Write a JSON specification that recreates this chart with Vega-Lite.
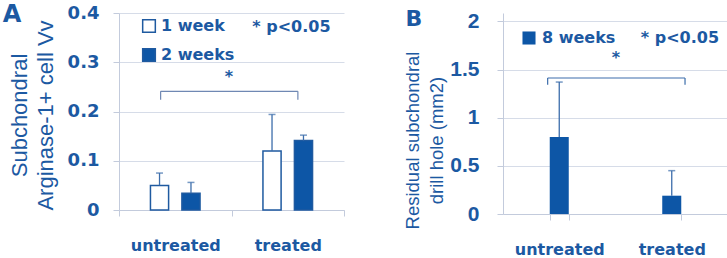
{
  "$schema": "https://vega.github.io/schema/vega-lite/v6.json",
  "padding": {"left": 2, "top": 2, "right": 0, "bottom": 0},
  "spacing": 159,
  "bounds": "flush",
  "background": "white",
  "config": {
    "view": {"stroke": null},
    "axis": {
      "domainColor": "#c3cbdc",
      "tickColor": "#c3cbdc",
      "gridColor": "#d6dce8",
      "tickSize": 6,
      "labelColor": "#1c59a2",
      "titleColor": "#1c59a2"
    },
    "legend": {"padding": 0}
  },
  "datasets": {
    "a": [
      {"group": "untreated", "week": "1 week", "value": 0.05, "upper": 0.075},
      {"group": "untreated", "week": "2 weeks", "value": 0.034, "upper": 0.056},
      {"group": "treated", "week": "1 week", "value": 0.12, "upper": 0.194},
      {"group": "treated", "week": "2 weeks", "value": 0.141, "upper": 0.152}
    ],
    "aBracket": [
      {"x": 0.37, "x2": 1.59, "y": 0.241, "y2": 0.241},
      {"x": 0.37, "x2": 0.37, "y": 0.224, "y2": 0.241},
      {"x": 1.59, "x2": 1.59, "y": 0.224, "y2": 0.241}
    ],
    "aText": [
      {"kind": "panel", "x": -0.951, "y": 0.396, "label": "A"},
      {"kind": "star", "x": 0.978, "y": 0.271, "label": "*"},
      {"kind": "p", "x": 1.533, "y": 0.371, "label": "* p<0.05"}
    ],
    "b": [
      {"group": "untreated", "series": "8 weeks", "value": 0.8, "upper": 1.37},
      {"group": "treated", "series": "8 weeks", "value": 0.19, "upper": 0.45}
    ],
    "bBracket": [
      {"x": 0.397, "x2": 1.618, "y": 1.412, "y2": 1.412},
      {"x": 0.397, "x2": 0.397, "y": 1.343, "y2": 1.412},
      {"x": 1.618, "x2": 1.618, "y": 1.343, "y2": 1.412}
    ],
    "bText": [
      {"kind": "panel", "x": -0.791, "y": 2.028, "label": "B"},
      {"kind": "star", "x": 1.004, "y": 1.623, "label": "*"},
      {"kind": "p", "x": 1.573, "y": 1.831, "label": "* p<0.05"}
    ]
  },
  "resolve": {"scale": {"fill": "independent"}, "legend": {"fill": "independent"}},
  "hconcat": [
    {
      "width": 225,
      "height": 197,
      "resolve": {"scale": {"x": "independent"}},
      "layer": [
        {
          "data": {"name": "a"},
          "layer": [
            {
              "mark": {"type": "bar", "stroke": "#1f5aa0", "strokeWidth": 1.5},
              "encoding": {
                "x": {"field": "group", "type": "nominal", "sort": ["untreated", "treated"],
                  "scale": {"paddingInner": 0, "paddingOuter": 0},
                  "axis": {"title": null, "labelAngle": 0, "tickBand": "extent", "labelFont": "DejaVu Sans", "labelFontWeight": "bold", "labelFontSize": 16, "labelPadding": 21}},
                "xOffset": {"field": "week", "type": "nominal", "scale": {"paddingInner": 0.423, "paddingOuter": 1.385}},
                "y": {"field": "value", "type": "quantitative",
                  "scale": {"domain": [0, 0.4], "nice": false},
                  "axis": {"title": ["Subchondral", "Arginase-1+ cell Vv"], "values": [0, 0.1, 0.2, 0.3, 0.4], "format": "~g",
                    "labelFont": "DejaVu Sans", "labelFontWeight": "bold", "labelFontSize": 18, "labelPadding": 14,
                    "titleFont": "Liberation Sans", "titleFontSize": 22, "titleFontWeight": "normal", "titleLineHeight": 26, "titlePadding": 10, "titleY": 102}},
                "fill": {"field": "week", "type": "nominal",
                  "scale": {"domain": ["1 week", "2 weeks"], "range": ["#ffffff", "#0d56a6"]},
                  "legend": {"title": null, "orient": "none", "legendX": 22, "legendY": 5, "symbolType": "square", "symbolSize": 160,
                    "symbolStrokeColor": "#1f5aa0", "symbolStrokeWidth": 1.5, "labelFont": "DejaVu Sans", "labelFontWeight": "bold",
                    "labelFontSize": 16, "labelColor": "#1c59a2", "labelOffset": 4, "rowPadding": 9}}
              }
            },
            {
              "mark": {"type": "rule", "color": "#3c6dab", "strokeWidth": 1.3},
              "encoding": {
                "x": {"field": "group", "type": "nominal", "sort": ["untreated", "treated"]},
                "xOffset": {"field": "week", "type": "nominal"},
                "y": {"field": "value", "type": "quantitative"},
                "y2": {"field": "upper"}
              }
            },
            {
              "mark": {"type": "tick", "orient": "horizontal", "color": "#3c6dab", "size": 7, "thickness": 1.5},
              "encoding": {
                "x": {"field": "group", "type": "nominal", "sort": ["untreated", "treated"]},
                "xOffset": {"field": "week", "type": "nominal"},
                "y": {"field": "upper", "type": "quantitative"}
              }
            }
          ]
        },
        {
          "data": {"name": "aBracket"},
          "mark": {"type": "rule", "color": "#6f88b3", "strokeWidth": 1.2},
          "encoding": {
            "x": {"field": "x", "type": "quantitative", "scale": {"domain": [0, 2], "nice": false, "zero": false}, "axis": null},
            "x2": {"field": "x2"},
            "y": {"field": "y", "type": "quantitative"},
            "y2": {"field": "y2"}
          }
        },
        {
          "data": {"name": "aText"},
          "transform": [{"filter": "datum.kind === 'panel'"}],
          "mark": {"type": "text", "font": "DejaVu Sans", "fontWeight": "bold", "fontSize": 24, "color": "#1c59a2", "baseline": "middle", "align": "center"},
          "encoding": {
            "x": {"field": "x", "type": "quantitative", "scale": {"domain": [0, 2], "nice": false, "zero": false}, "axis": null},
            "y": {"field": "y", "type": "quantitative"},
            "text": {"field": "label"}
          }
        },
        {
          "data": {"name": "aText"},
          "transform": [{"filter": "datum.kind !== 'panel'"}],
          "mark": {"type": "text", "font": "DejaVu Sans", "fontWeight": "bold", "fontSize": 16, "color": "#1c59a2", "baseline": "middle", "align": "center"},
          "encoding": {
            "x": {"field": "x", "type": "quantitative", "scale": {"domain": [0, 2], "nice": false, "zero": false}, "axis": null},
            "y": {"field": "y", "type": "quantitative"},
            "text": {"field": "label"}
          }
        }
      ]
    },
    {
      "width": 225,
      "height": 201,
      "resolve": {"scale": {"x": "independent"}},
      "layer": [
        {
          "data": {"name": "b"},
          "layer": [
            {
              "mark": {"type": "bar"},
              "encoding": {
                "x": {"field": "group", "type": "nominal", "sort": ["untreated", "treated"],
                  "scale": {"paddingInner": 0.831, "paddingOuter": 0.4155},
                  "axis": {"title": null, "labelAngle": 0, "tickBand": "extent", "labelFont": "DejaVu Sans", "labelFontWeight": "bold", "labelFontSize": 16, "labelPadding": 21}},
                "y": {"field": "value", "type": "quantitative",
                  "scale": {"domain": [0, 2.087], "nice": false},
                  "axis": {"title": ["Residual subchondral", "drill hole (mm2)"], "values": [0, 0.5, 1, 1.5, 2], "format": "~g",
                    "labelFont": "Liberation Sans", "labelFontWeight": "bold", "labelFontSize": 21, "labelPadding": 18,
                    "titleFont": "Liberation Sans", "titleFontSize": 18.5, "titleFontWeight": "normal", "titleLineHeight": 24, "titlePadding": 3, "titleY": 127}},
                "fill": {"field": "series", "type": "nominal",
                  "scale": {"domain": ["8 weeks"], "range": ["#0d56a6"]},
                  "legend": {"title": null, "orient": "none", "legendX": 18, "legendY": 17, "symbolType": "square", "symbolSize": 170,
                    "symbolStrokeWidth": 0, "labelFont": "DejaVu Sans", "labelFontWeight": "bold",
                    "labelFontSize": 16, "labelColor": "#1c59a2", "labelOffset": 5}}
              }
            },
            {
              "mark": {"type": "rule", "color": "#3c6dab", "strokeWidth": 1.3},
              "encoding": {
                "x": {"field": "group", "type": "nominal", "sort": ["untreated", "treated"]},
                "y": {"field": "value", "type": "quantitative"},
                "y2": {"field": "upper"}
              }
            },
            {
              "mark": {"type": "tick", "orient": "horizontal", "color": "#3c6dab", "size": 7, "thickness": 1.5},
              "encoding": {
                "x": {"field": "group", "type": "nominal", "sort": ["untreated", "treated"]},
                "y": {"field": "upper", "type": "quantitative"}
              }
            }
          ]
        },
        {
          "data": {"name": "bBracket"},
          "mark": {"type": "rule", "color": "#3c6dab", "strokeWidth": 1.2},
          "encoding": {
            "x": {"field": "x", "type": "quantitative", "scale": {"domain": [0, 2], "nice": false, "zero": false}, "axis": null},
            "x2": {"field": "x2"},
            "y": {"field": "y", "type": "quantitative"},
            "y2": {"field": "y2"}
          }
        },
        {
          "data": {"name": "bText"},
          "transform": [{"filter": "datum.kind === 'panel'"}],
          "mark": {"type": "text", "font": "DejaVu Sans", "fontWeight": "bold", "fontSize": 22, "color": "#1c59a2", "baseline": "middle", "align": "center"},
          "encoding": {
            "x": {"field": "x", "type": "quantitative", "scale": {"domain": [0, 2], "nice": false, "zero": false}, "axis": null},
            "y": {"field": "y", "type": "quantitative"},
            "text": {"field": "label"}
          }
        },
        {
          "data": {"name": "bText"},
          "transform": [{"filter": "datum.kind !== 'panel'"}],
          "mark": {"type": "text", "font": "DejaVu Sans", "fontWeight": "bold", "fontSize": 16, "color": "#1c59a2", "baseline": "middle", "align": "center"},
          "encoding": {
            "x": {"field": "x", "type": "quantitative", "scale": {"domain": [0, 2], "nice": false, "zero": false}, "axis": null},
            "y": {"field": "y", "type": "quantitative"},
            "text": {"field": "label"}
          }
        }
      ]
    }
  ]
}
